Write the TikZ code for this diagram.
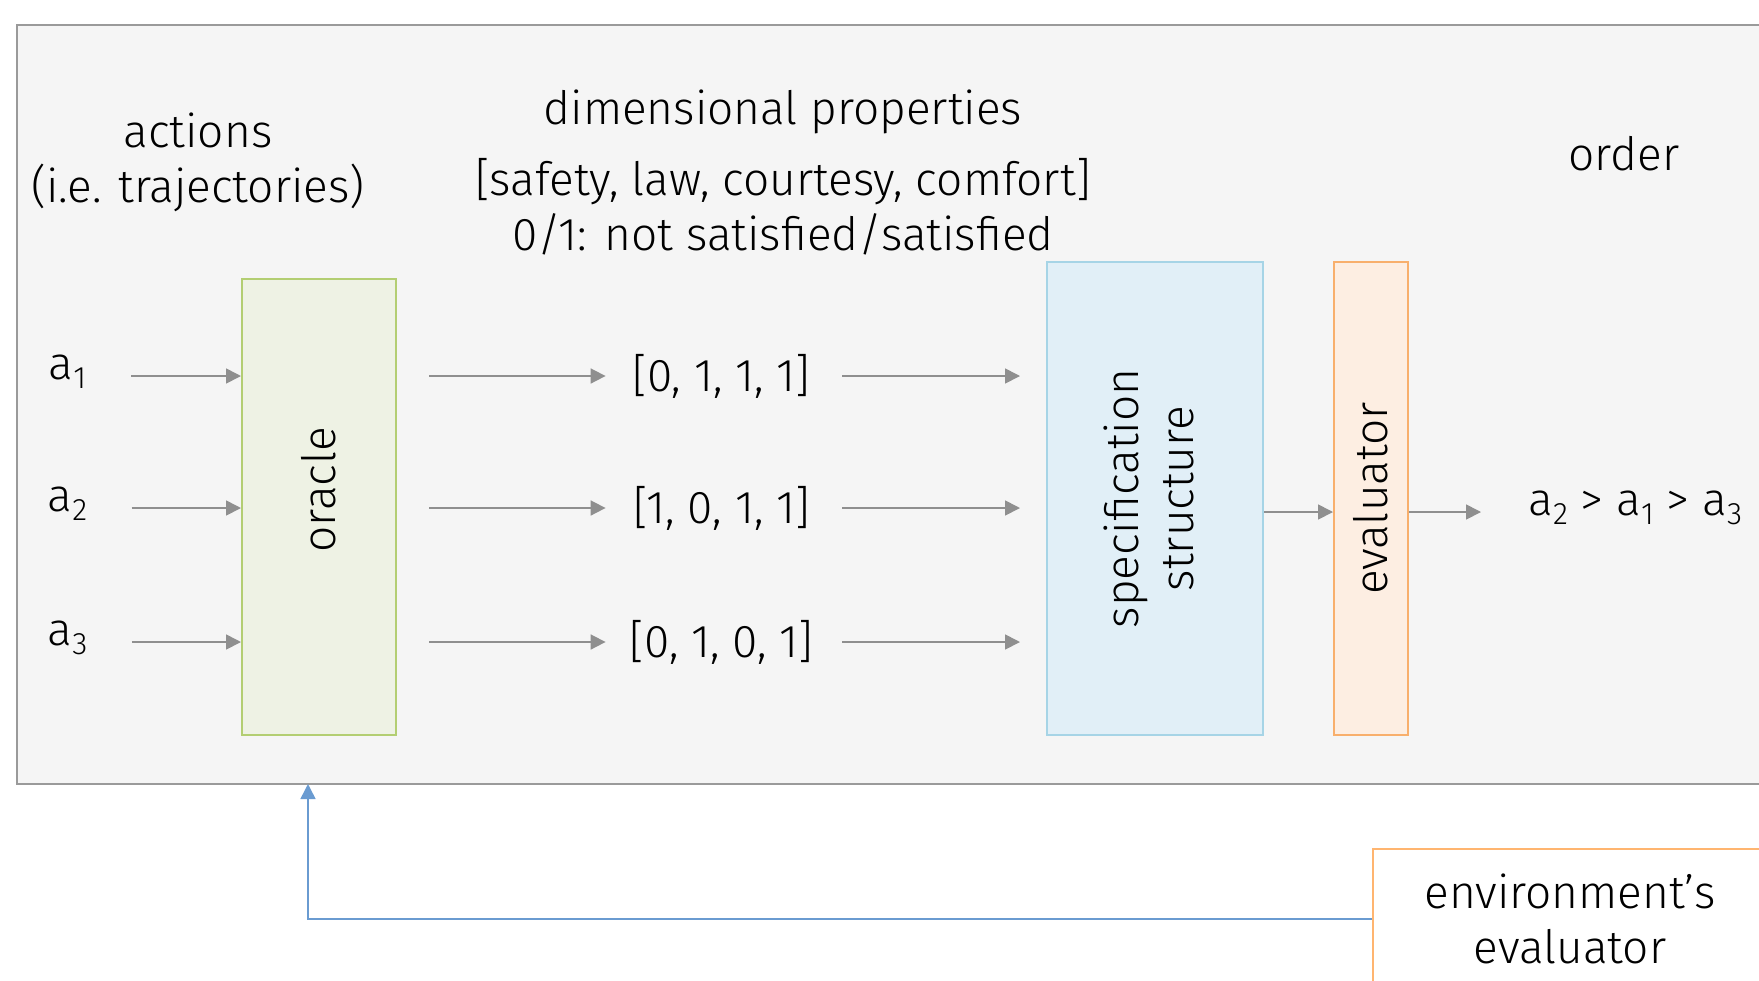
\documentclass[tikz,border=0pt]{standalone}
\usepackage{fontspec}
\setmainfont{Fira Sans Light}
\usetikzlibrary{arrows.meta}
\definecolor{panelfill}{HTML}{F5F5F5}
\definecolor{framegray}{HTML}{9A9A9A}
\definecolor{arrowgray}{HTML}{8F8F8F}
\definecolor{oraclefill}{HTML}{EEF2E4}
\definecolor{oracledraw}{HTML}{B3CE72}
\definecolor{specfill}{HTML}{E1EFF7}
\definecolor{specdraw}{HTML}{A6D4E6}
\definecolor{evalfill}{HTML}{FDEEE2}
\definecolor{evaldraw}{HTML}{F8AF6C}
\definecolor{envdraw}{HTML}{FFB570}
\definecolor{feedblue}{HTML}{6A9BD1}
\newcommand{\act}[1]{a\raisebox{-4.5pt}{\fontsize{15.5}{15.5}\selectfont #1}}

\begin{document}
\begin{tikzpicture}[x=0.5pt,y=-0.5pt,>={Triangle[length=7.5pt,width=7.5pt]},
    flow/.style={->,draw=arrowgray,line width=0.85pt},
    feedback/.style={->,draw=feedblue,line width=0.8pt},
    block/.style={draw,line width=1pt,inner sep=0pt,font=\fontsize{23}{27.5}\selectfont,align=center},
    txt/.style={font=\fontsize{23}{27.5}\selectfont,align=center,inner sep=0pt},
    vec/.style={txt,minimum width=95.5pt},
    act node/.style={txt,minimum width=19.5pt}]
  \useasboundingbox (0,0) rectangle (1759,980);
  \clip (0,0) rectangle (1759,980);
  % outer panel
  \node[block,draw=framegray,fill=panelfill,minimum width=891.5pt,minimum height=379.5pt] (frame) at (908.5,404.5) {};
  % headings
  \node[txt] (acthead) at (198,162) {actions\\(i.e. trajectories)};
  \node[txt] (dimhead) at (783,172) {dimensional properties\\[8pt]{[}safety, law, courtesy, comfort{]}\\0/1: not satisfied/satisfied};
  \node[txt] (orderhead) at (1624,154) {order};
  % blocks
  \node[block,draw=oracledraw,fill=oraclefill,minimum width=77pt,minimum height=228pt] (oracle) at (319,507) {\rotatebox{90}{\hspace*{17pt}oracle}};
  \node[block,draw=specdraw,fill=specfill,minimum width=108pt,minimum height=236.5pt] (spec) at (1155,498.5) {\rotatebox{90}{\begin{tabular}{@{}c@{}}specification\\structure\end{tabular}}};
  \node[block,draw=evaldraw,fill=evalfill,minimum width=37pt,minimum height=236.5pt] (eval) at (1371,498.5) {\rotatebox{90}{evaluator}};
  \node[block,draw=envdraw,fill=white,minimum width=197pt,minimum height=70pt] (env) at (1570,919) {environment's\\evaluator};
  % actions and vectors
  \node[act node] (a1) at (67.5,372) {\act{1}};
  \node[act node] (a2) at (67.5,504) {\act{2}};
  \node[act node] (a3) at (67.5,638) {\act{3}};
  \node[vec] (v1) at (721.5,376) {{[}0, 1, 1, 1{]}};
  \node[vec] (v2) at (721.5,508) {{[}1, 0, 1, 1{]}};
  \node[vec] (v3) at (721.5,642) {{[}0, 1, 0, 1{]}};
  \node[txt,anchor=west] (result) at (1528,508) {\act{2} > \act{1} > \act{3}};
  \coordinate (fb) at (308,784);
  % connectors
  \path (a1.east |- v1) edge[flow,shorten <=22pt] (oracle.west |- v1);
  \path (a2.east |- v2) edge[flow,shorten <=22pt] (oracle.west |- v2);
  \path (a3.east |- v3) edge[flow,shorten <=22pt] (oracle.west |- v3);
  \path (oracle.east |- v1) edge[flow,shorten <=16pt,shorten >=10pt] (v1.west);
  \path (oracle.east |- v2) edge[flow,shorten <=16pt,shorten >=10pt] (v2.west);
  \path (oracle.east |- v3) edge[flow,shorten <=16pt,shorten >=10pt] (v3.west);
  \path (v1.east) edge[flow,shorten <=12.5pt,shorten >=13pt] (v1.east -| spec.west);
  \path (v2.east) edge[flow,shorten <=12.5pt,shorten >=13pt] (v2.east -| spec.west);
  \path (v3.east) edge[flow,shorten <=12.5pt,shorten >=13pt] (v3.east -| spec.west);
  \coordinate (mid) at (1300,512);
  \path (spec.east |- mid) edge[flow] (eval.west |- mid);
  \path (eval.east |- mid) edge[flow,shorten >=23.5pt] (result.west |- mid);
  \draw[feedback] (env.west) -| (fb);
\end{tikzpicture}
\end{document}
